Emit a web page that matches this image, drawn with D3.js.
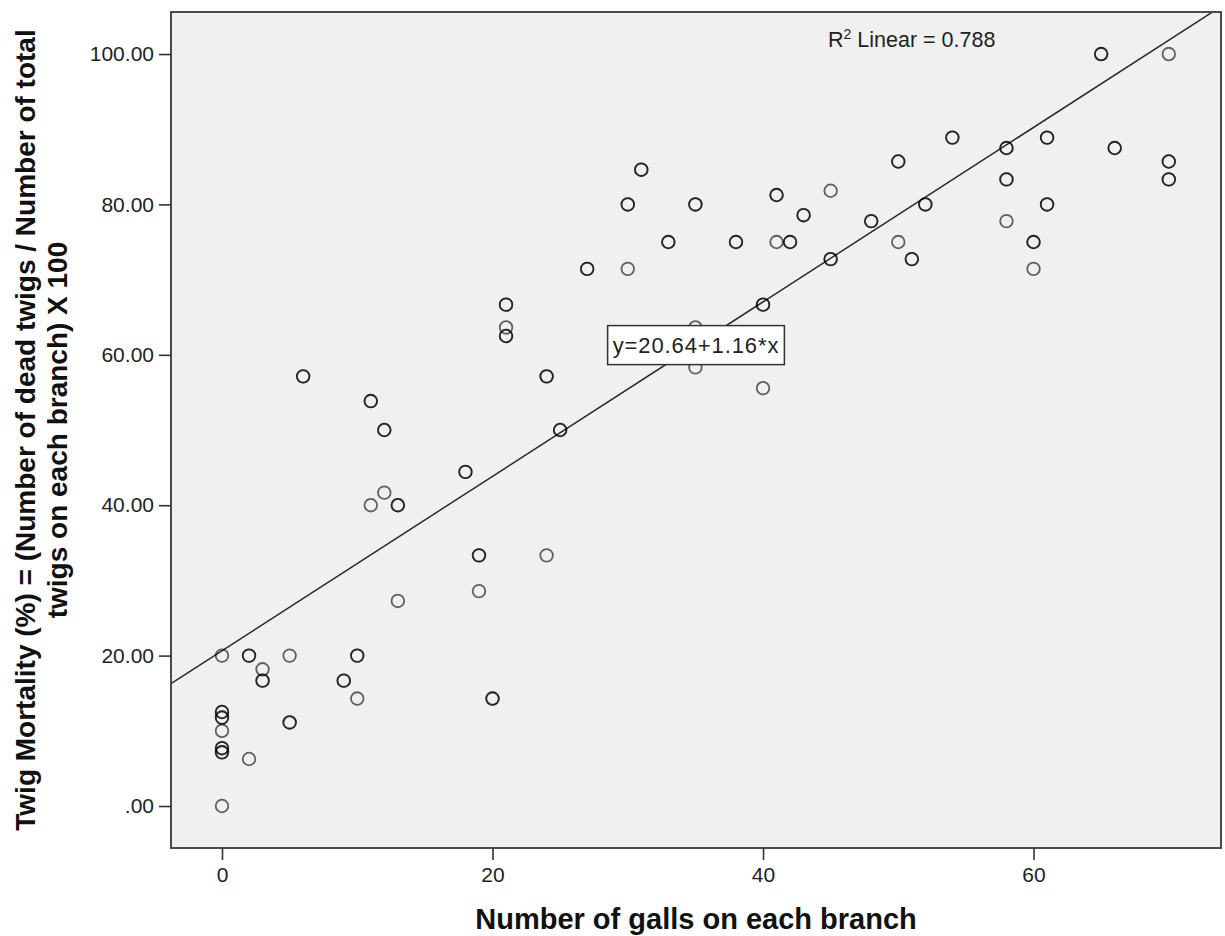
<!DOCTYPE html>
<html>
<head>
<meta charset="utf-8">
<script src="https://cdn.jsdelivr.net/npm/d3@7"></script>
<style>
  body { margin: 0; background: #fff; }
  #chart text { font-family: "Liberation Sans", Arial, sans-serif; }
</style>
</head>
<body>
<div id="chart"></div>
<script>
// Twig mortality vs galls per branch (SPSS scatter with linear fit)
// Points that look bold in the original are overlapping duplicates, so they appear twice.
const galls = [
    0, 0, 0, 0, 0, 0, 0, 0, 0, 0, 0,
    2, 2, 2,
    3, 3, 3,
    5, 5, 5,
    6, 6,
    9, 9,
    10, 10, 10,
    11, 11, 11,
    12, 12, 12,
    13, 13, 13,
    18, 18,
    19, 19, 19,
    20, 20,
    21, 21, 21, 21, 21,
    24, 24, 24,
    25, 25,
    27, 27,
    30, 30, 30,
    31, 31,
    33, 33,
    35, 35, 35, 35,
    38, 38,
    40, 40, 40,
    41, 41, 41,
    42, 42,
    43, 43,
    45, 45, 45,
    48, 48,
    50, 50, 50,
    51, 51,
    52, 52,
    54, 54,
    58, 58, 58, 58, 58,
    60, 60, 60,
    61, 61, 61, 61,
    65, 65,
    66, 66,
    70, 70, 70, 70, 70
];
const mortality = [
    20, 12.5, 12.5, 11.76, 11.76, 10, 7.69, 7.69, 7.14, 7.14, 0,
    20, 20, 6.25,
    18.18, 16.67, 16.67,
    20, 11.11, 11.11,
    57.14, 57.14,
    16.67, 16.67,
    20, 20, 14.29,
    53.85, 53.85, 40,
    50, 50, 41.67,
    40, 40, 27.27,
    44.44, 44.44,
    33.33, 33.33, 28.57,
    14.29, 14.29,
    66.67, 66.67, 63.64, 62.5, 62.5,
    57.14, 57.14, 33.33,
    50, 50,
    71.43, 71.43,
    80, 80, 71.43,
    84.62, 84.62,
    75, 75,
    80, 80, 63.64, 58.33,
    75, 75,
    66.67, 66.67, 55.56,
    81.25, 81.25, 75,
    75, 75,
    78.57, 78.57,
    81.82, 72.73, 72.73,
    77.78, 77.78,
    85.71, 85.71, 75,
    72.73, 72.73,
    80, 80,
    88.89, 88.89,
    87.5, 87.5, 83.33, 83.33, 77.78,
    75, 75, 71.43,
    88.89, 88.89, 80, 80,
    100, 100,
    87.5, 87.5,
    100, 85.71, 85.71, 83.33, 83.33
];
const xTicks = [0, 20, 40, 60];
const yTicks = [0, 20, 40, 60, 80, 100];
const fitIntercept = 20.64;
const fitSlope = 1.16;
const rSquared = 0.788;

const xTitle = 'Number of galls on each branch';
const yTitleLines = [
    'Twig Mortality (%) = (Number of dead twigs / Number of total',
    'twigs on each branch) X 100'
];

function drawChart() {
    const totalW = 1225, totalH = 936;
    const margin = { top: 12, left: 171 };
    const width = 1050, height = 836;

    const svg = d3.select('#chart').append('svg')
        .attr('width', totalW)
        .attr('height', totalH);

    const g = svg.append('g')
        .attr('transform', `translate(${margin.left},${margin.top})`);

    const x = d3.scaleLinear().domain([-3.77, 73.86]).range([0, width]);
    const y = d3.scaleLinear().domain([-5.585, 105.59]).range([height, 0]);

    // plot background
    g.append('rect')
        .attr('width', width)
        .attr('height', height)
        .attr('fill', '#f0f0f0');

    g.append('clipPath').attr('id', 'plot-clip')
        .append('rect').attr('width', width).attr('height', height);

    // fit line
    const [x0, x1] = x.domain();
    g.append('line')
        .attr('clip-path', 'url(#plot-clip)')
        .attr('x1', x(x0)).attr('y1', y(fitIntercept + fitSlope * x0))
        .attr('x2', x(x1)).attr('y2', y(fitIntercept + fitSlope * x1))
        .attr('stroke', '#2a2a2a')
        .attr('stroke-width', 1.5);

    // points
    g.selectAll('.pt')
        .data(galls.map((v, i) => [v, mortality[i]]))
        .enter()
        .append('circle')
        .attr('class', 'pt')
        .attr('cx', d => x(d[0]))
        .attr('cy', d => y(d[1]))
        .attr('r', 6.3)
        .attr('fill', 'none')
        .attr('stroke', '#000')
        .attr('stroke-opacity', 0.6)
        .attr('stroke-width', 1.8);

    // frame
    g.append('rect')
        .attr('width', width)
        .attr('height', height)
        .attr('fill', 'none')
        .attr('stroke', '#4a4a4a')
        .attr('stroke-width', 2);

    // axes
    const fmtY = v => d3.format('.2f')(v).replace(/^0\./, '.');
    const yAxis = g.append('g')
        .call(d3.axisLeft(y).tickValues(yTicks).tickFormat(fmtY).tickSize(12).tickPadding(5));
    const xAxis = g.append('g')
        .attr('transform', `translate(0,${height})`)
        .call(d3.axisBottom(x).tickValues(xTicks).tickFormat(d3.format('d')).tickSize(12).tickPadding(7));

    [xAxis, yAxis].forEach(ax => {
        ax.select('.domain').remove();
        ax.selectAll('.tick line').attr('stroke', '#333').attr('stroke-width', 1.6);
        ax.selectAll('.tick text')
            .style('font-size', '21px')
            .attr('fill', '#222');
    });

    // R squared annotation
    const r2 = svg.append('text')
        .attr('x', 828)
        .attr('y', 47)
        .style('font-size', '21.5px')
        .attr('fill', '#222');
    r2.append('tspan').text('R');
    r2.append('tspan').attr('dy', -8).style('font-size', '14px').text('2');
    r2.append('tspan').attr('dy', 8).text(' Linear = ' + rSquared);

    // equation label at the middle of the fit line
    const xm = (x0 + x1) / 2;
    const eq = g.append('g')
        .attr('transform', `translate(${x(xm)},${y(fitIntercept + fitSlope * xm)})`);
    const eqBox = eq.append('rect');
    const eqText = eq.append('text')
        .attr('text-anchor', 'middle')
        .attr('y', 8)
        .style('font-size', '22px')
        .style('letter-spacing', '0.9px')
        .attr('fill', '#222')
        .text(`y=${fitIntercept}+${fitSlope}*x`);
    const bb = eqText.node().getBBox();
    eqBox
        .attr('x', bb.x - 5)
        .attr('y', -19.5)
        .attr('width', bb.width + 10)
        .attr('height', 39)
        .attr('fill', '#fff')
        .attr('stroke', '#333')
        .attr('stroke-width', 1.5);

    // axis titles
    svg.append('text')
        .attr('x', margin.left + width / 2)
        .attr('y', 929)
        .attr('text-anchor', 'middle')
        .style('font-size', '29px')
        .style('font-weight', '700')
        .attr('fill', '#111')
        .text(xTitle);

    const yCenter = margin.top + height / 2;
    yTitleLines.forEach((line, i) => {
        svg.append('text')
            .attr('transform', `translate(${35 + i * 32},${yCenter}) rotate(-90)`)
            .attr('text-anchor', 'middle')
            .style('font-size', '28px')
            .style('font-weight', '700')
            .attr('fill', '#111')
            .text(line);
    });
}

drawChart();
</script>
</body>
</html>
